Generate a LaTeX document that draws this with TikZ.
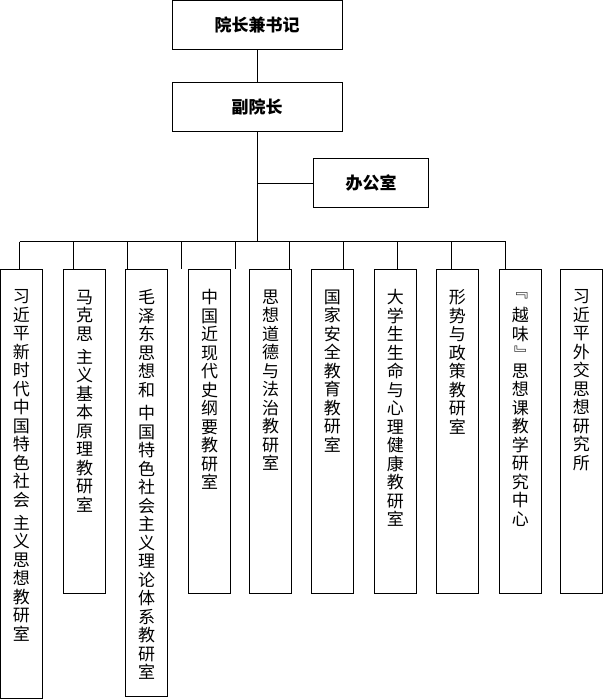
\documentclass[tikz,border=0pt]{standalone}
\usepackage{fontspec}
\setmainfont{Noto Sans CJK SC}
\usetikzlibrary{positioning}
% stack the characters of a name one under the other
\newcommand\hgap{}
\def\colstack#1{\colstackA#1\relax}
\def\colstackA#1#2{#1\ifx#2\relax\else
  \ifx#1\hgap\else\ifx#2\hgap\\[4.7pt]\else\\\fi\fi
  \expandafter\colstackA\expandafter#2\fi}
% brackets turned for upright text
\newcommand\openq{\vphantom{国}\smash{\raisebox{5pt}{\rotatebox[origin=c]{-90}{『}}}}
\newcommand\closeq{\vphantom{国}\smash{\raisebox{1pt}{\rotatebox[origin=c]{-90}{』}}}}
\tikzset{
  headbox/.style={draw, line width=1pt, minimum width=170pt, minimum height=49pt, inner sep=0pt, font=\fontsize{17}{20}\selectfont\bfseries},
  officebox/.style={headbox, minimum width=114.5pt},
  unitbox/.style={draw, line width=1pt, anchor=north, minimum width=42pt, inner sep=0pt},
  unittext/.style={anchor=north, align=center, inner sep=0pt, font=\fontsize{17}{18.5}\selectfont},
  link/.style={line width=1pt}
}
\begin{document}
\begin{tikzpicture}[x=1pt, y=-1pt]
	\useasboundingbox (0,0) rectangle (603,699);
	\node[headbox] (dean) at (257,24.9) {院长兼书记};
	\node[headbox] (vice) at (257,106.8) {副院长};
	\node[officebox] (office) at (371.2,183) {办公室};
	\coordinate (trunk) at (257,241.5);
	\draw[link] (dean) -- (vice);
	\draw[link] (vice.south) -- (trunk);
	\draw[link] (vice.south |- office.west) -- (office.west);
	\foreach \i/\x/\h/\name in {1/21.3/429/习近平新时代中国特色社会\hgap 主义思想教研室,
	    2/84.5/324.5/马克思\hgap 主义基本原理教研室,
	    3/146.5/427.5/毛泽东思想和\hgap 中国特色社会主义理论体系教研室,
	    4/209.5/324.5/中国近现代史纲要教研室,
	    5/270.5/324.5/思想道德与法治教研室,
	    6/332.4/324.5/国家安全教育教研室,
	    7/395.4/324.5/大学生生命与心理健康教研室,
	    8/457.4/324.5/形势与政策教研室,
	    9/520.4/324.5/\openq 越味\closeq 思想课教学研究中心,
	    10/581.4/324.5/习近平外交思想研究所} {
		\node[unitbox, minimum height=\h pt] (unit\i) at (\x,268.5) {};
		\node[unittext] (name\i) at ([yshift=-21pt]unit\i.north) {\expandafter\colstack\expandafter{\name}};
		\coordinate (tap\i) at ({19.5+54*(\i-1)},241.5);
		\draw[link] (tap\i) -- (tap\i |- unit\i.north);
	}
	\draw[link] (tap1) -- (tap10);
\end{tikzpicture}
\end{document}
